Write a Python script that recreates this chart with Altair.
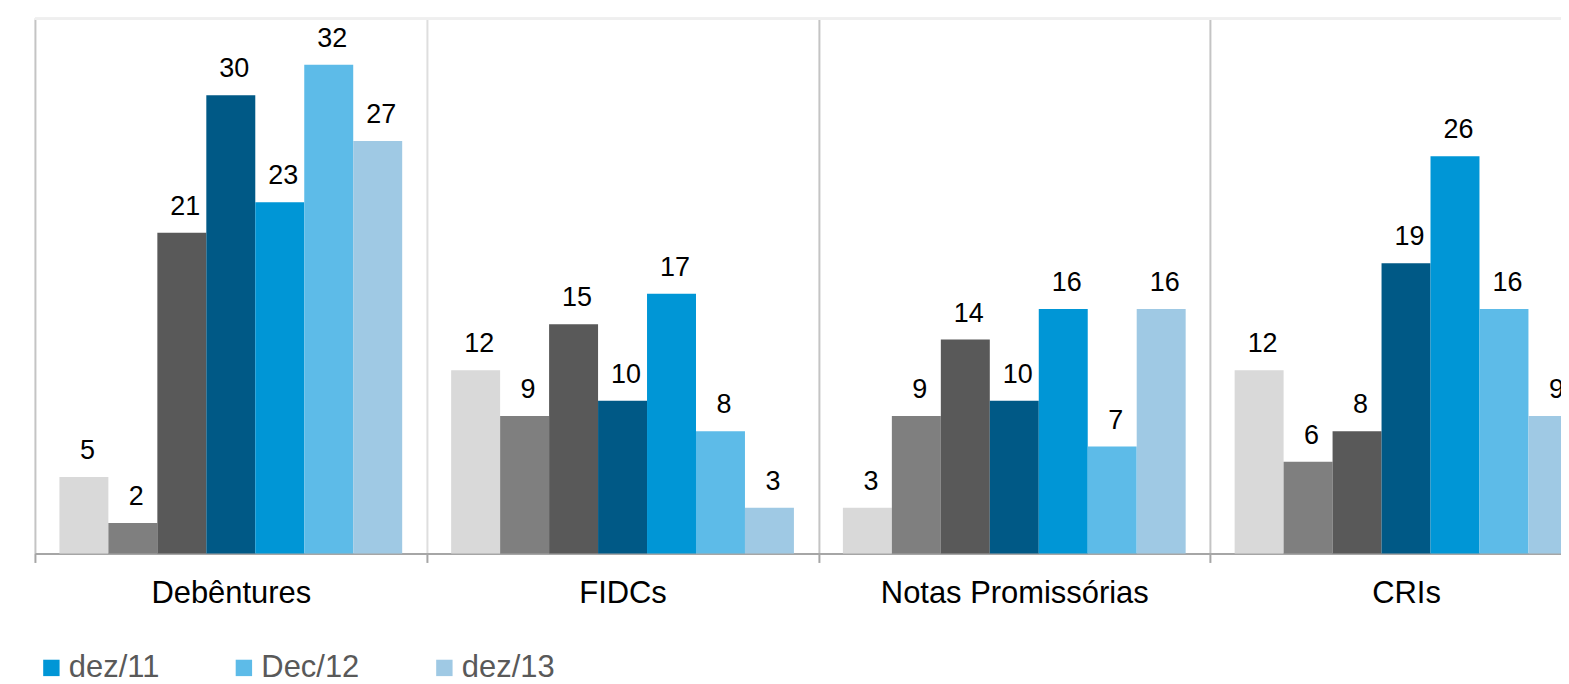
import altair as alt
import pandas as pd

categories = ["Debêntures", "FIDCs", "Notas Promissórias", "CRIs"]
series = ["dez/07", "dez/08", "dez/09", "dez/10", "dez/11", "Dec/12", "dez/13"]
colors = ["#d9d9d9", "#7f7f7f", "#595959", "#005986", "#0096d6", "#5dbbe8", "#9fc9e4"]
legend_series = ["dez/11", "Dec/12", "dez/13"]

values = {
    "Debêntures": [5, 2, 21, 30, 23, 32, 27],
    "FIDCs": [12, 9, 15, 10, 17, 8, 3],
    "Notas Promissórias": [3, 9, 14, 10, 16, 7, 16],
    "CRIs": [12, 6, 8, 19, 26, 16, 9],
}

rows = []
for c in categories:
    for s, v in zip(series, values[c]):
        rows.append({"cat": c, "series": s, "value": v})
df = pd.DataFrame(rows)

FONT = "Liberation Sans"

x_enc = alt.X(
    "cat:N",
    sort=categories,
    title=None,
    scale=alt.Scale(range=[0, 1571], paddingInner=0, paddingOuter=0, round=False),
    axis=alt.Axis(
        labelFont=FONT,
        labelFontSize=31,
        labelColor="#000000",
        labelPadding=16,
        labelAngle=0,
        labelLimit=0,
        tickBand="extent",
        tickSize=9,
        tickWidth=2,
        tickColor="#a6a6a6",
        domainColor="#a6a6a6",
        domainWidth=2,
        grid=True,
        gridWidth=2,
        gridColor={"condition": {"test": "datum.value === 'Debêntures'", "value": "#dedede"}, "value": "#c4c4c4"},
    ),
)
xoff_enc = alt.XOffset("series:N", sort=series, scale=alt.Scale(paddingInner=0, paddingOuter=0.5, round=False))
y_enc = alt.Y("value:Q", scale=alt.Scale(domain=[0, 35]), axis=None)

base = alt.Chart(df).encode(x=x_enc, xOffset=xoff_enc, y=y_enc)

bars = base.mark_bar().encode(
    color=alt.Color(
        "series:N",
        sort=series,
        scale=alt.Scale(domain=series, range=colors),
        legend=alt.Legend(
            values=legend_series,
            title=None,
            orient="none",
            direction="horizontal",
            legendX=1,
            legendY=635,
            padding=0,
            symbolType="square",
            symbolSize=270,
            symbolStrokeWidth=0,
            symbolOpacity=1,
            labelFont=FONT,
            labelFontSize=31,
            labelColor="#595959",
            labelOffset=2,
            labelLimit=0,
            columnPadding=69,
        ),
    )
)

labels = base.mark_text(
    font=FONT, fontSize=27, color="#000000", baseline="alphabetic", dy=-18, dx=3.5
).encode(text="value:Q")

top_line = alt.Chart(df).mark_rule(color="#efefef", strokeWidth=2).encode(
    y=alt.value(0), x=alt.value(0), x2=alt.value(1600)
)

chart = (
    alt.layer(top_line, bars, labels)
    .properties(
        width=1530,
        height=536,
        autosize=alt.AutoSizeParams(type="none"),
        padding={"left": 27, "top": 10, "right": 0, "bottom": 128},
    )
    .configure_view(stroke=None)
)

chart.save("out.html", embed_options={"renderer": "svg", "actions": False})
